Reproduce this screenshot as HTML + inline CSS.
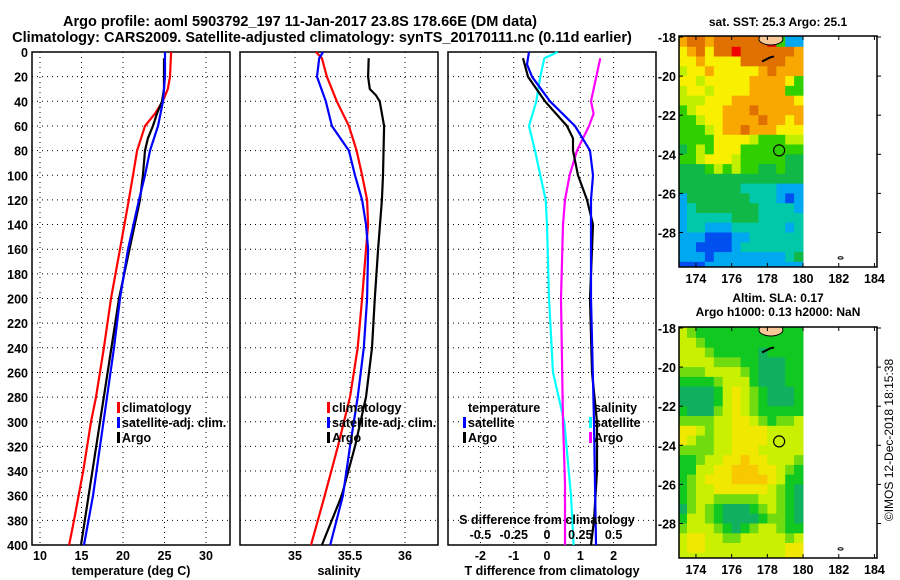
<!DOCTYPE html>
<html><head><meta charset="utf-8"><style>
body{margin:0;background:#fff;}
svg{display:block;font-family:"Liberation Sans",sans-serif;font-weight:bold;}
</style></head><body>
<svg id="c" width="900" height="580" viewBox="0 0 900 580">
<text x="300" y="26" text-anchor="middle" font-size="14.5">Argo profile: aoml 5903792_197 11-Jan-2017 23.8S 178.66E (DM data)</text>
<text x="322" y="42" text-anchor="middle" font-size="14.5">Climatology: CARS2009. Satellite-adjusted climatology: synTS_20170111.nc (0.11d earlier)</text>
<text x="778" y="26" text-anchor="middle" font-size="12">sat. SST: 25.3 Argo: 25.1</text>
<text x="778" y="302" text-anchor="middle" font-size="12">Altim. SLA: 0.17</text>
<text x="778" y="316" text-anchor="middle" font-size="12">Argo h1000: 0.13 h2000: NaN</text>
<text transform="translate(893,440) rotate(-90)" text-anchor="middle" font-size="12" font-weight="normal">©IMOS 12-Dec-2018 18:15:38</text>
</svg>
<script>
// ---------- data ----------
const depthTicks=[0,20,40,60,80,100,120,140,160,180,200,220,240,260,280,300,320,340,360,380,400];
const tTicks=[10,15,20,25,30];
const sTicks=[35,35.5,36];
const dTTicks=[-2,-1,0,1,2];
const dSTicks=[-0.5,-0.25,0,0.25,0.5];
const dSTickLabels=["-0.5","-0.25","0","0.25","0.5"];

const tClimDepth=[0,20,30,40,50,60,80,100,120,160,200,240,280,300,340,380,400];
const tClimVal=[25.8,25.66,25.4,24.8,23.86,22.65,21.7,21.2,20.7,19.64,18.55,17.7,16.75,16.15,15.2,14.1,13.5];
const tSatDepth=[0,20,40,60,80,100,120,160,200,240,280,320,360,400];
const tSatVal=[25.06,25.06,24.82,24.22,23.25,22.65,21.93,20.6,19.64,18.92,18.07,17.23,16.39,15.3];
const tArgoDepth=[5,30,40,50,60,70,80,100,120,200,300,400];
const tArgoVal=[24.94,24.94,24.7,24.1,23.6,23.0,22.65,22.4,22.05,19.52,17.23,14.94];

const sClimDepth=[0,5,20,40,60,80,100,120,140,160,200,240,280,320,360,400];
const sClimVal=[35.19,35.245,35.29,35.38,35.49,35.56,35.61,35.655,35.665,35.645,35.61,35.57,35.5,35.39,35.27,35.145];
const sSatDepth=[0,5,20,40,60,80,100,120,140,160,200,240,280,320,360,400];
const sSatVal=[35.255,35.22,35.2,35.28,35.335,35.49,35.545,35.61,35.645,35.665,35.655,35.625,35.57,35.5,35.435,35.32];
const sArgoDepth=[5,20,30,35,40,60,100,120,160,200,240,280,320,360,400];
const sArgoVal=[35.67,35.665,35.68,35.735,35.77,35.81,35.8,35.79,35.755,35.725,35.7,35.645,35.545,35.425,35.245];

const dTSatDepth=[0,10,20,40,60,80,100,120,200,300,400];
const dTSatVal=[-0.54,-0.6,-0.45,0.09,0.84,1.29,1.38,1.32,1.32,1.41,1.47];
const dTArgoDepth=[5,20,40,60,70,80,100,120,140,200,260,300,340,380,400];
const dTArgoVal=[-0.72,-0.57,-0.06,0.6,0.78,0.78,0.93,1.2,1.38,1.29,1.35,1.5,1.5,1.41,1.32];
const dSSatDepth=[0,5,20,40,60,80,100,120,140,200,260,300,360,400];
const dSSatVal=[0.08,-0.02,-0.05,-0.08,-0.135,-0.09,-0.05,-0.01,0,0.015,0.045,0.13,0.18,0.2];
const dSArgoDepth=[5,20,40,50,60,80,100,120,140,200,300,350,400];
const dSArgoVal=[0.4,0.37,0.33,0.35,0.315,0.225,0.17,0.135,0.12,0.105,0.12,0.135,0.135];

const lonTicks=[174,176,178,180,182,184];
const latTicks=[-18,-20,-22,-24,-26,-28];
const sstRows=["78878888889411","67868898888887","66766668888877","56676666678777","66566666777764","56656666777744","55566677777776","45666777877777","44566777787767","44456778777666","44446666544455","34546664444444","44566654444433","33345454433433","33333333333333","33333332222111","13333333222101","12333333322221","12222233322222","12211122222212","11100011222222","11000012222222","11101111111123","00011111111111"];
const slaRows=["32111111111111","33211111111111","33321111101111","33332221100011","22233332100011","11112333100011","00001343210001","00001343210001","10002343211111","22223344321223","44323344443333","43223344443333","22223344433333","11233445443332","11334455544321","12344455554311","12334444443210","12332222233210","02321000123210","13321000012210","23332101233211","34433223333323","34433333333344","33333333333344"];
const argoLon=178.66, argoLat=-23.8;

// ---------- helpers ----------
const svg=document.getElementById('c');
const NS='http://www.w3.org/2000/svg';
function el(tag,attrs,parent){const e=document.createElementNS(NS,tag);for(const k in attrs)e.setAttribute(k,attrs[k]);(parent||svg).appendChild(e);return e;}
function txt(s,attrs,parent){const e=el('text',attrs,parent);e.textContent=s;return e;}

const Y0=52,Y1=545;
const yD=d=>Y0+(Y1-Y0)*d/400;
const panels=[
 {x0:32,x1:230,f:v=>40+8.3*(v-10),ticks:tTicks,lab:tTicks.map(String),title:"temperature (deg C)",name:"temperature"},
 {x0:240,x1:438,f:v=>295+110*(v-35),ticks:sTicks,lab:["35","35.5","36"],title:"salinity",name:"salinity"},
 {x0:448,x1:656,f:v=>547+33.3*v,ticks:dTTicks,lab:dTTicks.map(String),title:"T difference from climatology",name:"difference"}
];
const fS=v=>547+133.2*v;

panels.forEach((p,i)=>{
  const g=el('g',{});
  
  
  depthTicks.forEach(d=>{
    const l=el('line',{x1:p.x0,x2:p.x1,y1:yD(d),y2:yD(d),stroke:'#000','stroke-width':1,'stroke-dasharray':'1,4'},g);
    
    
  });
  p.ticks.forEach((t,j)=>{
    const x=p.f(t);
    const l=el('line',{x1:x,x2:x,y1:Y0,y2:Y1,stroke:'#000','stroke-width':1,'stroke-dasharray':'1,4'},g);
    
    
    const tl=txt(p.lab[j],{x:x,y:560,'text-anchor':'middle','font-size':12.5},g);
    
    
  });
  const fr=el('rect',{x:p.x0,y:Y0,width:p.x1-p.x0,height:Y1-Y0,fill:'none',stroke:'#000','stroke-width':1.5},g);
  
  
  const at=txt(p.title,{x:(p.x0+p.x1)/2,y:575,'text-anchor':'middle','font-size':12.5},g);
  
  
});
depthTicks.forEach(d=>{
  const t=txt(String(d),{x:28,y:yD(d)+5,'text-anchor':'end','font-size':12.5});
  
  
});

function line(depths,vals,f,color,name){
  const pts=depths.map((d,i)=>f(vals[i]).toFixed(1)+','+yD(d).toFixed(1)).join(' ');
  const pl=el('polyline',{points:pts,fill:'none',stroke:color,'stroke-width':2.2,'stroke-linejoin':'round'});
  
  
}
const P=panels;
line(tClimDepth,tClimVal,P[0].f,'#f00','temp-climatology-line');
line(tArgoDepth,tArgoVal,P[0].f,'#000','temp-argo-line');
line(tSatDepth,tSatVal,P[0].f,'#00f','temp-satellite-line');
line(sClimDepth,sClimVal,P[1].f,'#f00','sal-climatology-line');
line(sArgoDepth,sArgoVal,P[1].f,'#000','sal-argo-line');
line(sSatDepth,sSatVal,P[1].f,'#00f','sal-satellite-line');
line(dSSatDepth,dSSatVal,fS,'#0ff','sdiff-satellite-line');
line(dSArgoDepth,dSArgoVal,fS,'#f0f','sdiff-argo-line');
line(dTArgoDepth,dTArgoVal,P[2].f,'#000','tdiff-argo-line');
line(dTSatDepth,dTSatVal,P[2].f,'#00f','tdiff-satellite-line');

const sl=txt('S difference from climatology',{x:547,y:524,'text-anchor':'middle','font-size':12.5});


dSTicks.forEach((t,j)=>{
  const e=txt(dSTickLabels[j],{x:fS(t),y:539,'text-anchor':'middle','font-size':12.5});
  
  
});

function legend(x,y,color,label,name){
  const g=el('g',{});
  
  
  if(color) el('rect',{x:x-5,y:y-10,width:3,height:11,fill:color},g);
  txt(label,{x:x,y:y,'font-size':12.5},g);
}
legend(122,412,'#f00','climatology','legend-climatology');
legend(122,427,'#00f','satellite-adj. clim.','legend-satellite-adj');
legend(122,442,'#000','Argo','legend-argo');
legend(332,412,'#f00','climatology','legend-climatology');
legend(332,427,'#00f','satellite-adj. clim.','legend-satellite-adj');
legend(332,442,'#000','Argo','legend-argo');
legend(468,412,null,'temperature','legend-temperature-header');
legend(468,427,'#00f','satellite','legend-temp-satellite');
legend(468,442,'#000','Argo','legend-temp-argo');
legend(594,412,null,'salinity','legend-salinity-header');
legend(594,427,'#0ff','satellite','legend-sal-satellite');
legend(594,442,'#f0f','Argo','legend-sal-argo');

// ---------- maps ----------
const sstColors=['#0050f0','#00a8f0','#00c8a8','#10b848','#30d000','#c0f000','#f8f000','#f8a800','#e07000','#f00000'];
const slaColors=['#10b060','#10c820','#70dc10','#c8f000','#f0e800','#f8c800'];
function map(top,rows,colors,name){
  const X0=679,X1=877,Yt=top,Yb=top+231;
  const lx=lon=>X0+17.85*(lon-173.05);
  const ly=lat=>Yt+1+19.55*(-18-lat);
  const g=el('g',{});
  
  
  const cp=el('clipPath',{id:'cp'+top},g);
  el('rect',{x:X0,y:Yt,width:X1-X0,height:Yb-Yt},cp);
  const cg=el('g',{'clip-path':'url(#cp'+top+')'},g);
  rows.forEach((r,ri)=>{
    for(let ci=0;ci<r.length;ci++){
      const lon=173+ci*0.5, lat=-18-ri*0.5;
      const x=lx(lon), y=(ri===0?Yt:ly(lat));
      const h=ly(lat-0.5)-y+0.5;
      const c=el('rect',{x:x.toFixed(1),y:y.toFixed(1),width:9.4,height:h.toFixed(1),fill:colors[+r[ci]]},cg);
      
      
    }
  });
  el('rect',{x:lx(180.05),y:Yt,width:X1-lx(180.05),height:Yb-Yt,fill:'#fff'},cg);
  el('ellipse',{cx:lx(178.2),cy:ly(-18.1),rx:12,ry:6,fill:'#f8c898',stroke:'#000','stroke-width':1},cg);
  el('path',{d:`M${lx(177.7)} ${ly(-19.25)} l8 -4 l4 -1`,stroke:'#000','stroke-width':2,fill:'none'},cg);
  el('ellipse',{cx:lx(182.1),cy:ly(-29.3),rx:2.5,ry:1.2,fill:'none',stroke:'#000','stroke-width':1},cg);
  const ac=el('circle',{cx:lx(argoLon),cy:ly(argoLat),r:5.5,fill:'none',stroke:'#000','stroke-width':1.2},g);
  
  
  el('rect',{x:X0,y:Yt,width:X1-X0,height:Yb-Yt,fill:'none',stroke:'#000','stroke-width':1.5},g);
  lonTicks.forEach(lon=>{
    const x=lx(lon);
    el('line',{x1:x,x2:x,y1:Yb,y2:Yb-4,stroke:'#000'},g);
    el('line',{x1:x,x2:x,y1:Yt,y2:Yt+4,stroke:'#000'},g);
    const t=txt(String(lon),{x:x,y:Yb+16,'text-anchor':'middle','font-size':12.5},g);
    
    
  });
  latTicks.forEach(lat=>{
    const y=ly(lat);
    el('line',{x1:X0,x2:X0+4,y1:y,y2:y,stroke:'#000'},g);
    el('line',{x1:X1,x2:X1+4,y1:y,y2:y,stroke:'#000'},g);
    const t=txt(String(lat),{x:676,y:y+5,'text-anchor':'end','font-size':12.5},g);
    
    
  });
}
map(36,sstRows,sstColors,'sst-map');
map(327,slaRows,slaColors,'sla-map');
</script>
</body></html>
